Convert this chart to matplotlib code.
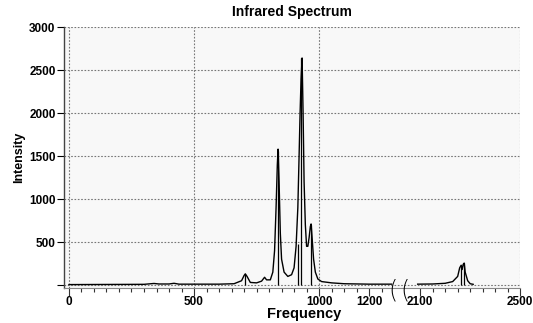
import numpy as np
import matplotlib
matplotlib.use("Agg")
import matplotlib.pyplot as plt

# spectrum (frequency, intensity)
freq_lo = [0, 300, 340, 360, 400, 420, 440, 600, 660, 690, 700, 705, 712, 725, 750, 770, 782, 790,
           805, 815, 822, 828, 833, 836, 840, 845, 850, 860, 875, 890, 900, 908, 915, 920, 924, 928,
           932, 936, 940, 945, 950, 955, 960, 965, 968, 972, 978, 985, 995, 1010, 1050, 1100, 1200, 1290]
inten_lo = [5, 8, 18, 12, 12, 20, 10, 10, 15, 50, 110, 130, 100, 30, 25, 45, 90, 60,
            60, 150, 400, 900, 1400, 1580, 1200, 600, 300, 150, 100, 120, 200, 450, 900, 1500, 2000, 2400,
            2640, 2000, 1200, 700, 450, 450, 550, 680, 710, 550, 300, 150, 70, 40, 25, 15, 10, 10]
freq_hi = [2090, 2150, 2200, 2230, 2250, 2258, 2264, 2268, 2272, 2276, 2280, 2290, 2300, 2312]
inten_hi = [10, 12, 20, 40, 100, 200, 230, 180, 240, 255, 150, 50, 15, 8]

# stick lines
stick_freq = [704, 834, 916, 928, 968, 2264, 2276]
stick_int = [130, 1560, 480, 2640, 700, 230, 255]

xtick_vals = [0, 500, 1000, 1200, 2100, 2500]
ytick_vals = [0, 500, 1000, 1500, 2000, 2500, 3000]
ytick_labels = ["", "500", "1000", "1500", "2000", "2500", "3000"]


def fwd(x):
    x = np.asarray(x, float)
    return np.where(x <= 1300, x, np.where(x >= 2040, x - 696, 1300 + (x - 1300) * 44 / 740))


def inv(p):
    p = np.asarray(p, float)
    return np.where(p <= 1300, p, np.where(p >= 1344, p + 696, 1300 + (p - 1300) * 740 / 44))


plt.rcParams['font.family'] = ['Liberation Sans', 'DejaVu Sans']
fig = plt.figure(figsize=(5.33, 3.23), dpi=100)
ax = fig.add_axes([0.120, 0.1096, 0.856, 0.8068])
ax.set_facecolor('#f8f8f8')

ax.set_xscale('function', functions=(fwd, inv))
ax.set_xlim(-20, 2500)
ax.set_ylim(-30, 3000)

ax.plot(freq_lo, inten_lo, color='k', lw=1.0)
ax.plot(freq_hi, inten_hi, color='k', lw=1.0)
ax.vlines(stick_freq, 0, stick_int, color='k', lw=0.9)

ax.set_xticks(xtick_vals)
ax.set_xticklabels([str(v) for v in xtick_vals], fontweight='bold', fontsize=8.5)
minor = list(range(0, 1300, 50)) + list(range(2100, 2501, 50))
ax.set_xticks(minor, minor=True)
ax.set_yticks(ytick_vals)
ax.set_yticklabels(ytick_labels, fontweight='bold', fontsize=8.5)
ax.tick_params(axis='x', which='major', length=6, width=0.8, colors='#333333', labelcolor='k', pad=0)
ax.tick_params(axis='x', which='minor', length=3, width=0.8, colors='#333333')
ax.tick_params(axis='y', length=5, width=0.8, pad=1)

# grid
for v in [0, 500, 1000, 2500]:
    ax.axvline(v, color='#777777', lw=0.8, ls=(0, (1.5, 1.5)), zorder=0)
for v in ytick_vals:
    ax.axhline(v, color='#777777', lw=0.8, ls=(0, (1.5, 1.5)), zorder=0)

for s in ['top', 'right']:
    ax.spines[s].set_visible(False)
ax.spines['left'].set_color('#444444')
ax.spines['left'].set_linewidth(1.0)
ax.spines['bottom'].set_color('#888888')
ax.spines['bottom'].set_linewidth(0.8)

# axis break marks
for xb in [0.7215, 0.748]:
    ax.text(xb, -0.01, "(", transform=ax.transAxes, fontsize=17, ha='center', va='center',
            family='DejaVu Sans', fontweight='light', clip_on=False)

ax.set_title("Infrared Spectrum", fontweight='bold', fontsize=10, pad=8)
ax.set_xlabel("Frequency", fontweight='bold', fontsize=10.5, labelpad=-1)
ax.xaxis.label.set_x(0.526)
ax.set_ylabel("Intensity", fontweight='bold', fontsize=9, labelpad=3)

fig.savefig("out.png", dpi=100)
